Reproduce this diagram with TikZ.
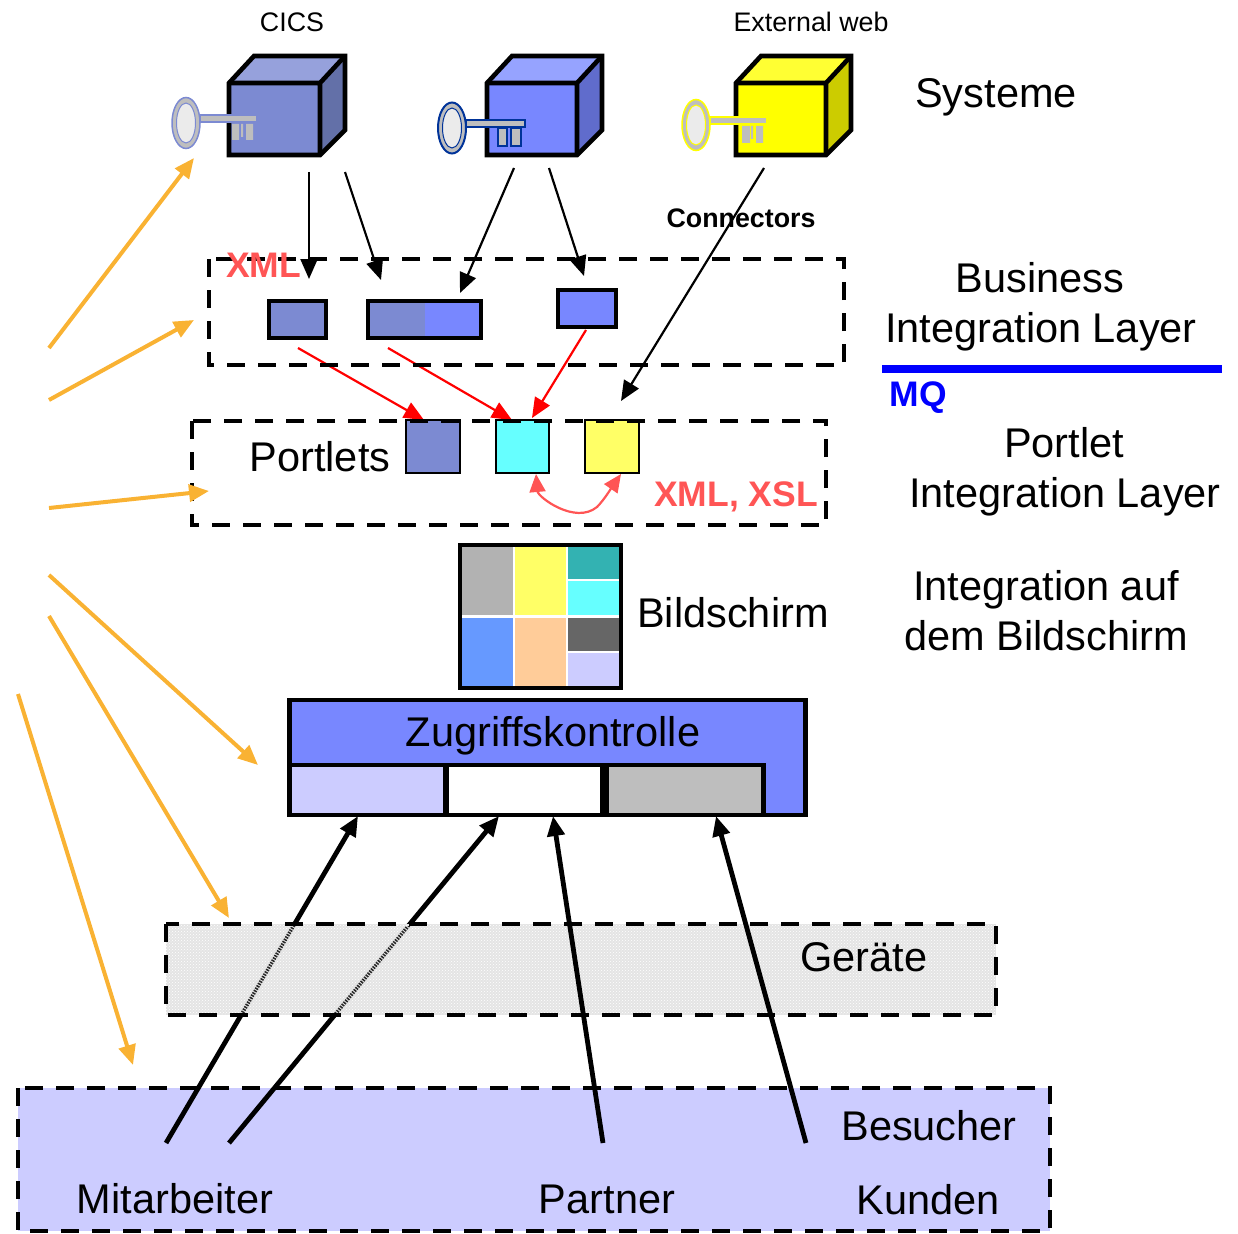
\documentclass[tikz,border=0pt]{standalone}
\usepackage{fontspec}
\setmainfont{Liberation Sans}
\usetikzlibrary{arrows.meta,patterns,calc}
\definecolor{orangeline}{HTML}{F9B233}
\definecolor{dimblue}{HTML}{7C8AD2}
\definecolor{dimtop}{HTML}{96A1DC}
\definecolor{dimside}{HTML}{6370A8}
\definecolor{brightblue}{HTML}{7887FF}
\definecolor{brighttop}{HTML}{96A3FF}
\definecolor{brightside}{HTML}{606CCC}
\definecolor{pureyellow}{HTML}{FFFF00}
\definecolor{yellowtop}{HTML}{FFFF33}
\definecolor{yellowside}{HTML}{CCCC00}
\definecolor{keyblue}{HTML}{003399}
\definecolor{purered}{HTML}{FF0000}
\definecolor{pureblue}{HTML}{0000FF}
\definecolor{lilac}{HTML}{CCCCFF}
\definecolor{softred}{HTML}{FF5555}
\definecolor{softyellow}{HTML}{FFFF66}
\definecolor{softcyan}{HTML}{66FFFF}
\definecolor{speck}{HTML}{E4E4E4}
\definecolor{tealcell}{HTML}{33B2B2}
\definecolor{bluecell}{HTML}{6699FF}
\definecolor{peachcell}{HTML}{FFCC99}
\definecolor{keygray}{HTML}{BEBEBE}
\tikzset{
  x=1pt,y=-1pt,
  lbl/.style={font=\fontsize{41.5}{41.5}\selectfont,anchor=base,inner sep=0pt},
  smalllbl/.style={font=\fontsize{26.8}{26.8}\selectfont,anchor=base,inner sep=0pt},
  boldlbl/.style={font=\fontsize{35.5}{35.5}\selectfont\bfseries,anchor=base,inner sep=0pt},
  dashbox/.style={draw=black,line width=4.4pt,dash pattern=on 18pt off 13pt},
  boxn/.style={draw=black,inner sep=0pt,outer sep=0pt,line width=#1},
  boxn/.default=4.6pt,
  thinarrow/.style={draw=black,line width=2.2pt,-{Triangle[length=20pt,width=17pt]}},
  redarrow/.style={draw=purered,line width=2.2pt,-{Triangle[length=20pt,width=17pt]}},
  softarrow/.style={draw=softred,line width=2.2pt,{Triangle[length=18pt,width=16pt]}-{Triangle[length=18pt,width=16pt]}},
  orangearrow/.style={draw=orangeline,line width=4pt,-{Triangle[length=20pt,width=17pt]}},
  thickarrow/.style={draw=black,line width=4.8pt,-{Triangle[length=20pt,width=17pt]}},
}
% #1 left x of front, #2 right of front, #3 front colour, #4 top colour, #5 side colour
\newcommand{\cubeart}[5]{%
  \fill[#4] (#1,83) -- (#1+25,56) -- (#2+25,56) -- (#2,83) -- cycle;
  \fill[#5] (#2,83) -- (#2+25,56) -- (#2+25,130) -- (#2,155) -- cycle;
  \fill[#3] (#1,83) rectangle (#2,155);
  \draw[line width=4.6pt,line join=miter] (#1,83) -- (#1+25,56) -- (#2+25,56) -- (#2+25,130) -- (#2,155) -- (#1,155) -- cycle;
  \draw[line width=4.6pt] (#1,83) -- (#2,83) -- (#2+25,56) (#2,83) -- (#2,155);
}
% #1 cx, #2 cy, #3 outline colour, #4 outline width, #5 shaft right offset
\newcommand{\keyart}[5]{%
  \draw[#3,line width=#4,fill=keygray] (#1+14,#2-8) rectangle (#1+#5,#2-1);
  \draw[#3,line width=#4,fill=keygray] (#1,#2) ellipse [x radius=14,y radius=25.5];
  \draw[#3,line width=1pt,fill=black!8] (#1,#2) ellipse [x radius=9.5,y radius=20];
}
\begin{document}
\begin{tikzpicture}
\useasboundingbox (0,0) rectangle (1238,1233);

% named connector ends
\foreach \n/\x/\y in {
  oa1/49/348,ob1/194/158,oa2/49/400,ob2/194/320,oa3/49/508,ob3/209/491,
  oa4/49/575,ob4/258/765,oa5/49/616,ob5/229/918,oa6/18/694,ob6/133/1065,
  ka1/309/172,kb1/309/279,ka2/345/172,kb2/381/280,ka3/514/168,kb3/460/293,
  ka4/549/168,kb4/584/276,ka5/764/168,kb5/621/401,
  ra1/298/348,rb1/424/420,ra2/388/348,rb2/512/420,ra3/586/330,rb3/532/418,
  ta1/166/1143,tb1/358/816,ta2/229/1143,tb2/499/816,ta3/603/1143,tb3/553/816,
  ta4/806/1143,tb4/716/816,arcl/536/474,arcr/621/474}
  {\coordinate (\n) at (\x,\y);}
\coordinate (arcla) at (538,497);
\coordinate (arclb) at (575,525);
\coordinate (arcm) at (597,507);
\coordinate (arcra) at (604,500);
\coordinate (arcrb) at (612,487);

% Besucher band
\path[fill=lilac] (18,1088) rectangle (1050,1231);
\draw[dashbox] (18,1088) rectangle (1050,1231);

% two arrows running beneath the device band
\draw[thickarrow] (ta1) -- (tb1);
\draw[thickarrow] (ta2) -- (tb2);

% device band
\fill[speck] (166,924) rectangle (996,1015);
\fill[pattern=crosshatch dots,pattern color=white] (166,924) rectangle (996,1015);
\begin{scope}
  \clip (166,926) rectangle (996,1013);
  \draw[speck,line width=6.5pt] (ta1) -- (tb1);
  \draw[speck,line width=6.5pt] (ta2) -- (tb2);
  \draw[black!85,line width=3.5pt,dash pattern=on 1.5pt off 1.2pt] (ta1) -- (tb1);
  \draw[black!85,line width=3.5pt,dash pattern=on 1.5pt off 1.2pt] (ta2) -- (tb2);
\end{scope}
\draw[dashbox] (166,924) rectangle (996,1015);
\draw[thickarrow] (ta3) -- (tb3);
\draw[thickarrow] (ta4) -- (tb4);

% cubes and keys
\cubeart{229}{320}{dimblue}{dimtop}{dimside}
\keyart{186}{123}{dimblue}{1.5pt}{71}
\fill[keygray] (232,124) rectangle (239,140) (241,124) rectangle (243,137) (246,124) rectangle (253,140);
\cubeart{487}{577}{brightblue}{brighttop}{brightside}
\keyart{452}{128}{keyblue}{2pt}{73}
\draw[keyblue,line width=2pt,fill=keygray] (498,128) rectangle (507,146);
\draw[keyblue,line width=2pt,fill=keygray] (511,128) rectangle (521,146);
\cubeart{736}{826}{pureyellow}{yellowtop}{yellowside}
\keyart{696}{125}{pureyellow}{1.5pt}{71}
\fill[keygray] (742,126) rectangle (750,143) (751,126) rectangle (753,139) (756,126) rectangle (763,143);

% integration boxes
\node[boxn,fill=dimblue,minimum width=57pt,minimum height=37pt] (bia) at (297.5,319.5) {};
\node[boxn,minimum width=113pt,minimum height=37pt,
      path picture={\fill[dimblue] (path picture bounding box.north west) rectangle (path picture bounding box.south);
                    \fill[brightblue] (path picture bounding box.north) rectangle (path picture bounding box.south east);}] (bib) at (424.5,319.5) {};
\node[boxn,fill=brightblue,minimum width=58pt,minimum height=37pt] (bic) at (587,308.5) {};

% portlet boxes
\node[boxn=2.4pt,fill=dimblue,minimum width=54pt,minimum height=53pt] (pa) at (433,446.5) {};
\node[boxn=2.4pt,fill=softcyan,minimum width=53pt,minimum height=53pt] (pb) at (522.5,446.5) {};
\node[boxn=2.4pt,fill=softyellow,minimum width=54pt,minimum height=53pt] (pc) at (612,446.5) {};

% screen
\fill[black] (458,543) rectangle (623,690);
\fill[white] (462,547) rectangle (619,686);
\fill[black!30] (462,547) rectangle (512.5,615);
\fill[softyellow] (514.5,547) rectangle (566,615);
\fill[tealcell] (568,547) rectangle (619,579);
\fill[softcyan] (568,581) rectangle (619,615);
\fill[bluecell] (462,618) rectangle (512.5,686);
\fill[peachcell] (514.5,618) rectangle (566,686);
\fill[black!60] (568,618) rectangle (619,651);
\fill[lilac] (568,653) rectangle (619,686);

% access control
\node[boxn,fill=brightblue,minimum width=516pt,minimum height=115pt] (zk) at (547.5,757.5) {};
\node[boxn,fill=lilac,minimum width=155pt,minimum height=50pt] (zka) at (367.5,790) {};
\node[boxn,fill=white,minimum width=157pt,minimum height=50pt] (zkb) at (525.5,790) {};
\node[boxn,fill=keygray,minimum width=159pt,minimum height=50pt] (zkc) at (684,790) {};
\fill[black] (600,765) rectangle (608.5,815);

% thin arrows
\draw[thinarrow] (ka1) -- (kb1);
\draw[thinarrow] (ka2) -- (kb2);
\draw[thinarrow] (ka3) -- (kb3);
\draw[thinarrow] (ka4) -- (kb4);
\draw[thinarrow] (ka5) -- (kb5);
\draw[redarrow] (ra1) -- (rb1);
\draw[redarrow] (ra2) -- (rb2);
\draw[redarrow] (ra3) -- (rb3);
\draw[softarrow] (arcl) .. controls (arcla) and (arclb) .. (arcm) .. controls (arcra) and (arcrb) .. (arcr);

% dashed layers, on top of what crosses them
\draw[dashbox] (209,259) rectangle (844,365);
\draw[dashbox] (192,421) rectangle (826,525);

% orange arrows
\draw[orangearrow] (oa1) -- (ob1);
\draw[orangearrow] (oa2) -- (ob2);
\draw[orangearrow] (oa3) -- (ob3);
\draw[orangearrow] (oa4) -- (ob4);
\draw[orangearrow] (oa5) -- (ob5);
\draw[orangearrow] (oa6) -- (ob6);

% blue rule
\coordinate (rulel) at (882,369);
\coordinate (ruler) at (1222,369);
\draw[pureblue,line width=8pt] (rulel) -- (ruler);

% labels
\node[smalllbl] (tcics) at (292,32) {CICS};
\node[smalllbl] (text) at (811,32) {External web};
\node[lbl] (tsys) at (996,108) {Systeme};
\node[boldlbl,font=\fontsize{26.8}{26.8}\selectfont\bfseries] (tconn) at (741,228) {Connectors};
\node[boldlbl,text=softred] (txml) at (263.5,277) {XML};
\node[lbl] (tbus1) at (1040,292) {Business};
\node[lbl] (tbus2) at (1041,342) {Integration Layer};
\node[boldlbl,text=pureblue] (tmq) at (918.5,406) {MQ};
\node[lbl] (tport) at (320,471) {Portlets};
\node[lbl] (tpi1) at (1064,457) {Portlet};
\node[lbl] (tpi2) at (1065,507) {Integration Layer};
\node[boldlbl,text=softred] (txsl) at (736,506) {XML, XSL};
\node[lbl] (tia1) at (1046,600) {Integration auf};
\node[lbl] (tia2) at (1046,650) {dem Bildschirm};
\node[lbl] (tbild) at (733,627) {Bildschirm};
\node[lbl] (tzug) at (553,746) {Zugriffskontrolle};
\node[lbl] (tger) at (864,971) {Geräte};
\node[lbl] (tbes) at (929,1140) {Besucher};
\node[lbl] (tmit) at (175,1213) {Mitarbeiter};
\node[lbl] (tpar) at (607,1213) {Partner};
\node[lbl] (tkun) at (928,1214) {Kunden};
\end{tikzpicture}
\end{document}
